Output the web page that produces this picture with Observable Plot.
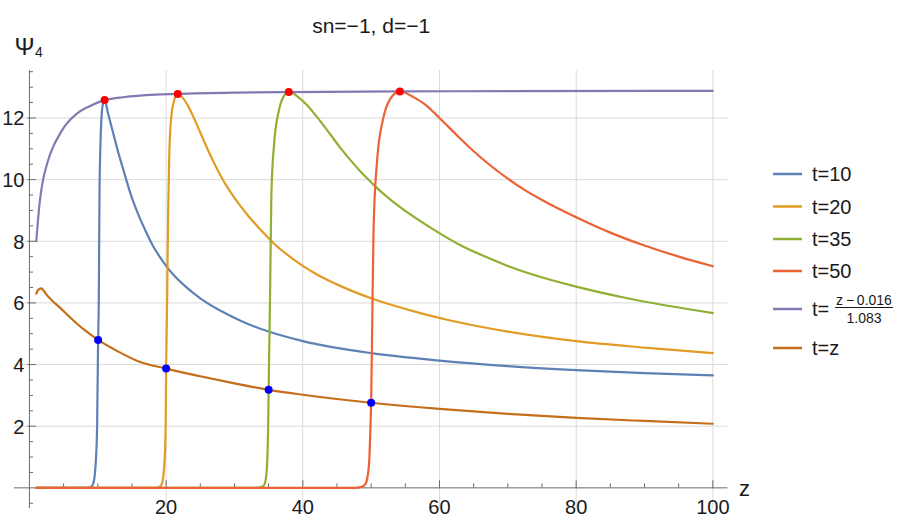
<!DOCTYPE html>
<html><head><meta charset="utf-8">
<script src="https://cdn.jsdelivr.net/npm/d3@7"></script>
<script src="https://cdn.jsdelivr.net/npm/@observablehq/plot@0.6"></script>
<style>body{margin:0;background:#fff}svg{display:block}</style>
</head><body><div id="chart"></div><script>
// ---- data ----
const title = "sn=\u22121, d=\u22121";
const zT10 = [1, 8.5, 9.0, 9.3, 9.55, 9.75, 9.9, 10.05, 10.15, 10.25, 10.4, 10.6, 10.8, 11.0, 11.5, 12, 12.5, 13, 13.5, 14, 14.5, 15, 16, 17, 18, 19, 20, 21, 22.9, 25, 28.6, 30.8, 35, 40, 50, 60, 70, 80, 90, 100];
const vT10 = [0, 0, 0.03, 0.12, 0.4, 1.0, 2.0, 4.8, 6.1, 9.5, 11.2, 12.2, 12.5, 12.58, 12.15, 11.72, 11.3, 10.88, 10.5, 10.13, 9.75, 9.41, 8.83, 8.33, 7.88, 7.52, 7.2, 6.93, 6.52, 6.15, 5.67, 5.43, 5.07, 4.76, 4.37, 4.13, 3.95, 3.82, 3.72, 3.65];
const zT20 = [1, 18.3, 19.0, 19.35, 19.6, 19.8, 19.93, 20.0, 20.15, 20.3, 20.45, 20.75, 21.1, 21.7, 22, 22.4, 23.2, 24, 25, 26, 27, 28, 29, 30, 32, 34, 36, 38, 40, 42, 45.8, 50, 57.2, 61.6, 70, 80, 90, 100];
const vT20 = [0, 0, 0.03, 0.12, 0.4, 1.0, 2.0, 3.87, 6.1, 9.0, 10.7, 12.03, 12.5, 12.78, 12.74, 12.66, 12.4, 12.03, 11.53, 11.02, 10.55, 10.12, 9.74, 9.41, 8.83, 8.33, 7.88, 7.52, 7.2, 6.93, 6.52, 6.15, 5.67, 5.43, 5.07, 4.76, 4.55, 4.37];
const zT35 = [1, 33.0, 34.0, 34.4, 34.65, 34.82, 34.93, 35.0, 35.2, 35.4, 35.8, 36.5, 37.2, 37.95, 38.5, 39.2, 40.6, 42, 43.75, 45.5, 47.25, 49, 50.75, 52.5, 56, 59.5, 63, 66.5, 70, 73.5, 80.15, 87.5, 100];
const vT35 = [0, 0, 0.03, 0.12, 0.4, 1.0, 2.0, 3.18, 6.1, 9.5, 11.16, 12.24, 12.7, 12.84, 12.81, 12.7, 12.42, 12.05, 11.55, 11.03, 10.56, 10.13, 9.75, 9.41, 8.83, 8.33, 7.88, 7.52, 7.2, 6.93, 6.52, 6.15, 5.67];
const zT50 = [1, 47.5, 48.6, 49.15, 49.5, 49.75, 49.9, 50.0, 50.2, 50.36, 50.87, 51.8, 52.8, 54.2, 55, 56, 58, 60, 62.5, 65, 67.5, 70, 72.5, 75, 80, 85, 90, 95, 100];
const vT50 = [0, 0, 0.03, 0.12, 0.4, 1.0, 2.0, 2.76, 6.08, 8.46, 10.62, 12.02, 12.62, 12.86, 12.82, 12.7, 12.42, 12.0, 11.45, 10.92, 10.45, 10.03, 9.66, 9.34, 8.78, 8.28, 7.86, 7.5, 7.19];
const zFit = [1, 1.2, 1.4, 1.7, 2.0, 2.5, 3.0, 3.5, 4.3, 5, 6, 7, 8.5, 11, 14, 17, 21.7, 30, 38, 54, 70, 100];
const vFit = [8.0, 8.55, 9.05, 9.6, 10.0, 10.45, 10.8, 11.08, 11.42, 11.68, 11.95, 12.15, 12.35, 12.58, 12.68, 12.74, 12.78, 12.82, 12.84, 12.86, 12.87, 12.88];
const zTz = [1, 1.3, 1.7, 2.0, 2.5, 3.3, 4.5, 6, 8, 10.05, 13, 16, 20, 25, 30, 35, 40, 50, 60, 70, 80, 90, 100];
const vTz = [6.3, 6.43, 6.47, 6.42, 6.27, 6.08, 5.84, 5.52, 5.13, 4.8, 4.42, 4.1, 3.87, 3.62, 3.39, 3.18, 3.02, 2.76, 2.56, 2.4, 2.27, 2.17, 2.08];
const peakZ = [11.0, 21.7, 37.95, 54.2];
const peakV = [12.58, 12.78, 12.84, 12.86];
const crossZ = [10.05, 20.0, 35.0, 50.0];
const crossV = [4.8, 3.87, 3.18, 2.76];
const xMajor = [20, 40, 60, 80, 100];
const xMinor = [5, 10, 15, 25, 30, 35, 45, 50, 55, 65, 70, 75, 85, 90, 95];
const yMajor = [2, 4, 6, 8, 10, 12];
const yMinor = [-0.5, 0.5, 1, 1.5, 2.5, 3, 3.5, 4.5, 5, 5.5, 6.5, 7, 7.5, 8.5, 9, 9.5, 10.5, 11, 11.5, 12.5, 13, 13.5];
const legendLabels = ["t=10", "t=20", "t=35", "t=50", "fit", "t=z"];
const fitNumerator = "z\u2009\u2212\u20090.016";
const fitDenominator = "1.083";
const colors = ["#5E81B5", "#E19C24", "#8FB032", "#EB6235", "#8778B3", "#C56E1A"];

const pts = (zs, vs) => zs.map((z, i) => ({z, v: vs[i]}));
const series = [pts(zT10, vT10), pts(zT20, vT20), pts(zT35, vT35), pts(zT50, vT50), pts(zFit, vFit), pts(zTz, vTz)];

const font = "'Liberation Sans', Arial, sans-serif";
const ink = "#1a1a1a";
const axisC = "#6b6b6b";
const gridC = "#dadada";

const chart = Plot.plot({
  width: 909, height: 523,
  marginLeft: 13.9, marginRight: 181.6, marginTop: 70, marginBottom: 15,
  x: {domain: [-2.2, 102.2], axis: null},
  y: {domain: [-0.67, 13.54], axis: null},
  style: {fontFamily: font, background: "white", overflow: "visible"},
  marks: [
    Plot.ruleX(xMajor, {stroke: gridC, strokeWidth: 1}),
    Plot.ruleY(yMajor, {stroke: gridC, strokeWidth: 1}),
    Plot.ruleY([0], {stroke: axisC, strokeWidth: 1}),
    Plot.ruleX([0], {stroke: axisC, strokeWidth: 1}),
    Plot.ruleX(xMajor, {x: d => d, y1: -0.03, y2: 0.23, stroke: axisC}),
    Plot.ruleX(xMinor, {x: d => d, y1: 0, y2: 0.13, stroke: axisC}),
    Plot.ruleY(yMajor, {y: d => d, x1: -0.2, x2: 1.0, stroke: axisC}),
    Plot.ruleY(yMinor, {y: d => d, x1: 0, x2: 0.6, stroke: axisC}),
    Plot.text(xMajor, {x: d => d, y: 0, dy: 20, text: d => String(d), fontSize: 20, fill: ink}),
    Plot.text(yMajor, {x: 0, y: d => d, dx: -5, dy: 1, text: d => String(d), textAnchor: "end", fontSize: 20, fill: ink}),
    ...series.map((s, i) => Plot.line(s, {x: "z", y: "v", stroke: colors[i], strokeWidth: 2.2, curve: "monotone-x"})),
    Plot.dot(pts(peakZ, peakV), {x: "z", y: "v", r: 4, fill: "#FF0000", stroke: "none"}),
    Plot.dot(pts(crossZ, crossV), {x: "z", y: "v", r: 4, fill: "#0000FF", stroke: "none"}),
    Plot.text([title], {frameAnchor: "top", dy: -52, fontSize: 21, fill: ink}),
    Plot.text(["z"], {x: 102.2, y: 0, dx: 11, dy: 1, textAnchor: "start", fontSize: 22, fill: ink}),
    Plot.text(["\u03A8"], {x: 0, y: 13.54, dx: -5, dy: -23.5, fontSize: 24, fill: ink}),
    Plot.text(["4"], {x: 0, y: 13.54, dx: 9.5, dy: -17.5, fontSize: 14, fill: ink})
  ]
});
document.getElementById("chart").appendChild(chart);

// ---- legend ----
const svg = d3.select(chart);
const lg = svg.append("g").attr("font-family", font).attr("fill", ink).attr("text-anchor", "start");
const rowY = [174, 206.5, 239, 271, 309, 348];
legendLabels.forEach((lab, i) => {
  const y = rowY[i];
  lg.append("line").attr("x1", 773).attr("x2", 802).attr("y1", y).attr("y2", y)
    .attr("stroke", colors[i]).attr("stroke-width", 2.5);
  if (lab === "fit") {
    lg.append("text").attr("x", 812).attr("y", y).attr("dy", "0.35em").attr("font-size", 20)
      .attr("text-anchor", "start").text("t=");
    lg.append("text").attr("x", 864).attr("y", y - 8.5).attr("dy", "0.35em").attr("font-size", 14)
      .attr("text-anchor", "middle").text(fitNumerator);
    lg.append("line").attr("x1", 835).attr("x2", 893).attr("y1", y - 1.5).attr("y2", y - 1.5)
      .attr("stroke", ink).attr("stroke-width", 1);
    lg.append("text").attr("x", 864).attr("y", y + 9.5).attr("dy", "0.35em").attr("font-size", 14)
      .attr("text-anchor", "middle").text(fitDenominator);
  } else {
    lg.append("text").attr("x", 812).attr("y", y).attr("dy", "0.35em").attr("font-size", 20)
      .attr("text-anchor", "start").text(lab);
  }
});
</script></body></html>
